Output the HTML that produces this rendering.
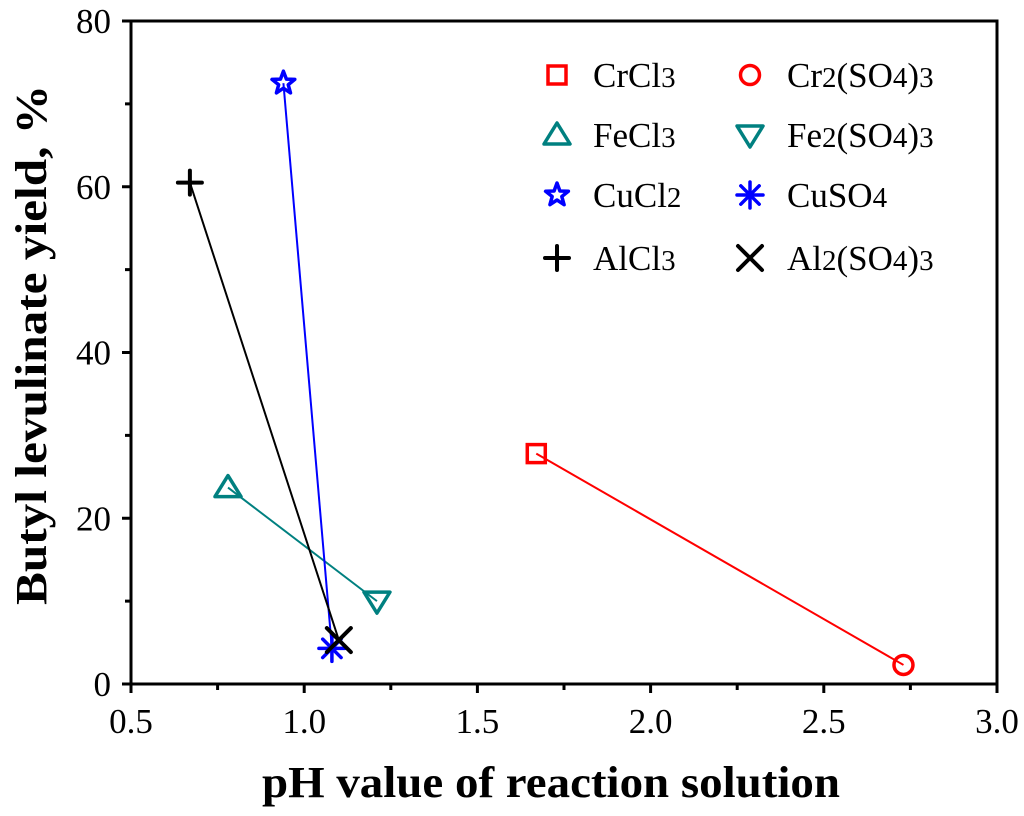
<!DOCTYPE html>
<html><head><meta charset="utf-8"><style>
body{margin:0;background:#fff}
svg{display:block;font-family:"Liberation Serif",serif}
</style></head><body>
<svg id="c" width="1024" height="816" viewBox="0 0 1024 816"></svg>
<script>
const seriesNames=["CrCl3","Cr2(SO4)3","FeCl3","Fe2(SO4)3","CuCl2","CuSO4","AlCl3","Al2(SO4)3"];
const phValues=[1.67,2.73,0.78,1.21,0.94,1.08,0.67,1.10];
const yieldValues=[27.8,2.3,23.7,10.0,72.5,4.3,60.5,5.3];
const pairs=[[0,1],[2,3],[4,5],[6,7]];
const pairColors=["#ff0000","#008080","#0000ff","#000000"];
const xTicks=[0.5,1.0,1.5,2.0,2.5,3.0];
const yTicks=[0,20,40,60,80];
const legendLabels=[["CrCl","3"],["Cr","2","(SO","4",")","3"],["FeCl","3"],["Fe","2","(SO","4",")","3"],["CuCl","2"],["CuSO","4"],["AlCl","3"],["Al","2","(SO","4",")","3"]];

const L=131,R=997,T=21,B=684;
const xs=v=>L+(v-0.5)/2.5*(R-L);
const ys=v=>B-v/80*(B-T);
const svg=document.getElementById('c');
const NS="http://www.w3.org/2000/svg";
function mk(tag,attrs,parent){const e=document.createElementNS(NS,tag);for(const k in attrs)e.setAttribute(k,attrs[k]);(parent||svg).appendChild(e);return e;}

let f=mk('rect',{x:L,y:T,width:R-L,height:B-T,fill:'none',stroke:'#000','stroke-width':3});



xTicks.forEach((t,i)=>{const x=xs(t);
 let l=mk('line',{x1:x,x2:x,y1:B,y2:B+9,stroke:'#000','stroke-width':3});
 
 
 let tx=mk('text',{x:x,y:733,'text-anchor':'middle','font-size':35});
 tx.textContent=t.toFixed(1);
 
 
 if(i<xTicks.length-1){const xm=xs(t+0.25);
  let m=mk('line',{x1:xm,x2:xm,y1:B,y2:B+6,stroke:'#000','stroke-width':3});
  
  }
});
yTicks.forEach((t,i)=>{const y=ys(t);
 let l=mk('line',{x1:L-9,x2:L,y1:y,y2:y,stroke:'#000','stroke-width':3});
 
 
 let tx=mk('text',{x:L-20,y:y+12,'text-anchor':'end','font-size':35});
 tx.textContent=t;
 
 
 if(i<yTicks.length-1){const ym=ys(t+10);
  let m=mk('line',{x1:L-6,x2:L,y1:ym,y2:ym,stroke:'#000','stroke-width':3});
  
  }
});

let xt=mk('text',{x:551,y:797,'text-anchor':'middle','font-size':44,'font-weight':'bold',textLength:578,lengthAdjust:'spacingAndGlyphs'});
xt.textContent='pH value of reaction solution';


let yt=mk('text',{x:0,y:0,'text-anchor':'middle','font-size':44,'font-weight':'bold',textLength:520,lengthAdjust:'spacingAndGlyphs',transform:`translate(46,345) rotate(-90)`});
yt.textContent='Butyl levulinate yield, %';



function marker(i,cx,cy,color,g){
 const sw=3.5;
 switch(i){
 case 0: mk('rect',{x:cx-9,y:cy-9,width:18,height:18,fill:'none',stroke:color,'stroke-width':sw},g);break;
 case 1: mk('circle',{cx:cx,cy:cy,r:9.5,fill:'none',stroke:color,'stroke-width':sw},g);break;
 case 2: mk('polygon',{points:`${cx},${cy-12} ${cx+13},${cy+9} ${cx-13},${cy+9}`,fill:'none',stroke:color,'stroke-width':sw,'stroke-linejoin':'round'},g);break;
 case 3: mk('polygon',{points:`${cx},${cy+12} ${cx+13},${cy-9} ${cx-13},${cy-9}`,fill:'none',stroke:color,'stroke-width':sw,'stroke-linejoin':'round'},g);break;
 case 4:{let p=[];for(let k=0;k<10;k++){const r=k%2?5:12,a=-Math.PI/2+k*Math.PI/5;p.push((cx+r*Math.cos(a)).toFixed(1)+','+(cy+r*Math.sin(a)).toFixed(1));}
  mk('polygon',{points:p.join(' '),fill:'none',stroke:color,'stroke-width':sw,'stroke-linejoin':'round'},g);break;}
 case 5: for(let k=0;k<4;k++){const a=k*Math.PI/4;mk('line',{x1:cx-13*Math.cos(a),y1:cy-13*Math.sin(a),x2:cx+13*Math.cos(a),y2:cy+13*Math.sin(a),stroke:color,'stroke-width':sw,'stroke-linecap':'round'},g);}break;
 case 6: mk('path',{d:`M${cx-12} ${cy}H${cx+12}M${cx} ${cy-12}V${cy+12}`,stroke:color,'stroke-width':sw+0.5,'stroke-linecap':'round'},g);break;
 case 7: mk('path',{d:`M${cx-12} ${cy-12}L${cx+12} ${cy+12}M${cx+12} ${cy-12}L${cx-12} ${cy+12}`,stroke:color,'stroke-width':sw+0.5,'stroke-linecap':'round'},g);break;
 }
}

pairs.forEach((p,j)=>{
 let l=mk('line',{x1:xs(phValues[p[0]]),y1:ys(yieldValues[p[0]]),x2:xs(phValues[p[1]]),y2:ys(yieldValues[p[1]]),stroke:pairColors[j],'stroke-width':2});
 
 
});
seriesNames.forEach((n,i)=>{
 const g=mk('g',{});
 
 
 marker(i,xs(phValues[i]),ys(yieldValues[i]),pairColors[Math.floor(i/2)],g);
});

const rowsY=[75,135,195,258];
seriesNames.forEach((n,i)=>{
 const col=i%2,row=Math.floor(i/2);
 const mx=col?750:557,tx=col?787:593,y=rowsY[row];
 const g=mk('g',{});
 
 
 marker(i,mx,y,pairColors[row],g);
 const t=mk('text',{x:tx,y:y+12,'font-size':35},g);
 legendLabels[i].forEach((s,k)=>{
  const sp=mk('tspan',{},t);
  sp.textContent=s;
  if(k%2===1){sp.setAttribute('font-size',29);}
 });
});
</script>
</body></html>
